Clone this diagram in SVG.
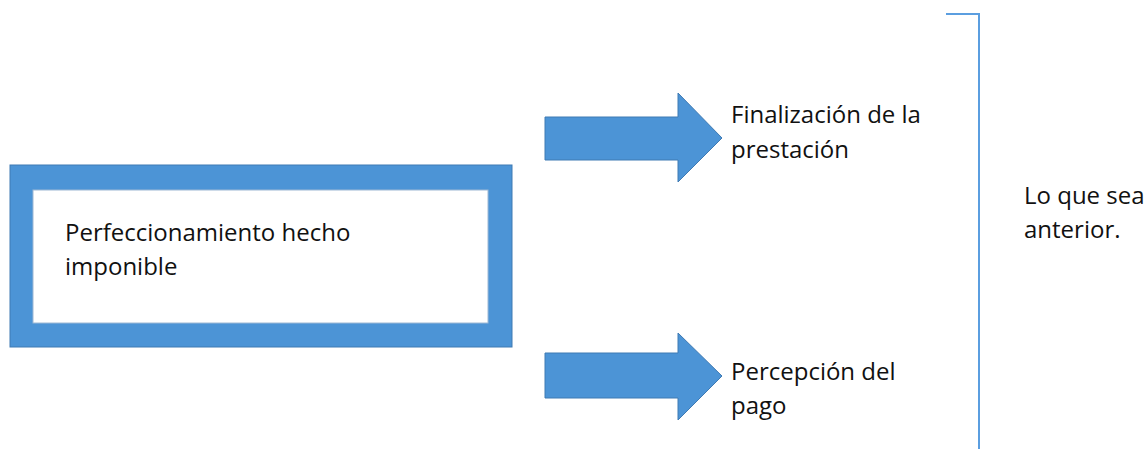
<svg xmlns="http://www.w3.org/2000/svg" width="1147" height="449" viewBox="0 0 1147 449">
<style>
.t{font-family:"Open Sans","Liberation Sans",sans-serif;font-size:24px;fill:#111}
.blue{fill:#4C94D6;stroke:#3F7AB3;stroke-width:1}
</style>
<rect width="1147" height="449" fill="#fff"/>
<g id="node-main">
<rect class="blue" x="10" y="165" width="502" height="182"/>
<rect x="33" y="190" width="455" height="133" fill="#fff" stroke="#9DB8D4" stroke-width="1"/>
<text class="t" x="65" y="241">Perfeccionamiento hecho</text>
<text class="t" x="65" y="275">imponible</text>
</g>
<g id="connectors">
<polygon id="arrow-top" class="blue" points="545,117 678,117 678,93 722,138 678,182 678,160 545,160"/>
<polygon id="arrow-bottom" class="blue" points="545,353 678,353 678,333 722,376 678,420 678,398 545,398"/>
<path id="bracket" d="M946,14 H979 V449" fill="none" stroke="#5B9EE0" stroke-width="2"/>
</g>
<g id="node-finalizacion">
<text class="t" x="731" y="123">Finalización de la</text>
<text class="t" x="731" y="158">prestación</text>
</g>
<g id="node-percepcion">
<text class="t" x="731" y="380">Percepción del</text>
<text class="t" x="731" y="414">pago</text>
</g>
<g id="node-lo-que-sea">
<text class="t" x="1024" y="204">Lo que sea</text>
<text class="t" x="1024" y="238">anterior.</text>
</g>
</svg>
